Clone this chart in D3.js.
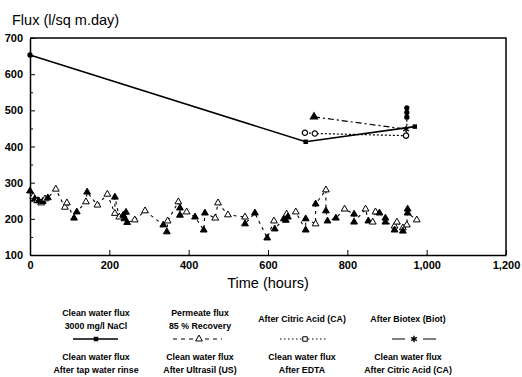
<!DOCTYPE html>
<html>
<head>
<meta charset="utf-8">
<script src="https://cdn.jsdelivr.net/npm/d3@7"></script>
<style>
  body { margin: 0; background: #fff; }
  text { font-family: "Liberation Sans", Arial, sans-serif; fill: #000; }
  .tick text { font-size: 11px; font-weight: bold; }
  .legend text { font-size: 8.8px; font-weight: bold; }
</style>
</head>
<body>
<div id="chart"></div>
<script>
// data (time in hours, flux in l/sq m.day)
var xTicks = [0, 200, 400, 600, 800, 1000, 1200];
var yTicks = [100, 200, 300, 400, 500, 600, 700];
var yMinor = [150, 250, 350, 450, 550, 650];

var naclTimes = [0, 695, 970];
var naclFlux = [653, 413, 455];

var caTimes = [693, 718, 948];
var caFlux = [438, 436, 430];

var biotTimes = [716, 948];
var biotFlux = [482, 448];

var afterCaTimes = [950, 950, 950];
var afterCaFlux = [507, 494, 481];

// permeate flux, 85 % recovery (open triangles)
var permTimes = [8, 18, 28, 38, 65, 88, 93, 141, 170, 195, 214, 225, 264, 290, 347, 374, 395, 467, 474, 499, 542,
  615, 647, 670, 720, 746, 793, 846, 864, 871, 919, 925, 940, 950, 975];
var permFlux = [262, 250, 244, 255, 282, 232, 244, 247, 238, 268, 215, 205, 197, 222, 194, 247, 219, 202, 244, 211, 205,
  194, 213, 219, 186, 280, 227, 227, 191, 219, 180, 191, 175, 183, 197];

// clean water flux after Ultrasil (filled triangles)
var usTimes = [0, 12, 22, 32, 45, 111, 118, 144, 214, 235, 238, 242, 245, 336, 345, 378, 378, 416, 438, 441, 542, 567,
  598, 617, 640, 645, 650, 695, 695, 720, 746, 750, 771, 817, 817, 853, 881, 896, 896, 919, 940, 952, 952];
var usFlux = [277, 255, 250, 248, 258, 202, 219, 274, 260, 210, 200, 218, 190, 183, 164, 230, 210, 205, 169, 216, 186, 216,
  147, 172, 200, 196, 205, 169, 200, 241, 222, 194, 202, 213, 191, 194, 216, 202, 191, 169, 166, 227, 216];

var legendTop = ["Clean water flux|3000 mg/l NaCl", "Permeate flux|85 % Recovery", "After Citric Acid (CA)", "After Biotex (Biot)"];
var legendBottom = ["Clean water flux|After tap water rinse", "Clean water flux|After Ultrasil (US)",
  "Clean water flux|After EDTA", "Clean water flux|After Citric Acid (CA)"];

var svgWidth = 522;
var svgHeight = 377;
var margin = { top: 38, right: 16, bottom: 122, left: 30 };
var width = svgWidth - margin.left - margin.right;
var height = svgHeight - margin.top - margin.bottom;

var svg = d3.select("#chart").append("svg")
  .attr("width", svgWidth)
  .attr("height", svgHeight);

var chartGroup = svg.append("g")
  .attr("transform", `translate(${margin.left}, ${margin.top})`);

var x = d3.scaleLinear().domain([0, 1200]).range([0, width]);
var y = d3.scaleLinear().domain([100, 700]).range([height, 0]);

function pairs(ts, vs) {
  return ts.map((t, i) => [t, vs[i]]);
}

// frame top and right
chartGroup.append("path")
  .attr("d", `M0,0H${width}V${height}`)
  .attr("fill", "none")
  .attr("stroke", "#000")
  .attr("stroke-width", 1.5);

var bottomAxis = d3.axisBottom(x).tickValues(xTicks).tickFormat(d3.format(","))
  .tickSizeInner(-5).tickSizeOuter(0).tickPadding(6);
var leftAxis = d3.axisLeft(y).tickValues(yTicks).tickFormat(d3.format("d"))
  .tickSizeInner(-5).tickSizeOuter(0).tickPadding(7);

var gx = chartGroup.append("g").attr("transform", `translate(0, ${height})`).call(bottomAxis);
var gy = chartGroup.append("g").call(leftAxis);
chartGroup.append("g").call(d3.axisLeft(y).tickValues(yMinor).tickFormat("").tickSizeInner(-3).tickSizeOuter(0))
  .select(".domain").remove();
[gx, gy].forEach(g => {
  g.select(".domain").attr("stroke-width", 1.5);
  g.selectAll(".tick line").attr("stroke-width", 1);
});

var line = d3.line().x(d => x(d[0])).y(d => y(d[1]));
var tri = d3.symbol().type(d3.symbolTriangle).size(20);
var sq = d3.symbol().type(d3.symbolSquare).size(20);
var ast = d3.symbol().type(d3.symbolAsterisk).size(30);
var circ = d3.symbol().type(d3.symbolCircle).size(22);

// permeate + clean water after Ultrasil, joined by a dashed trace in time order
var lowPts = pairs(permTimes, permFlux).map(d => d.concat([false]))
  .concat(pairs(usTimes, usFlux).map(d => d.concat([true])))
  .sort((a, b) => a[0] - b[0]);

chartGroup.append("path")
  .datum(lowPts)
  .attr("d", line)
  .attr("fill", "none")
  .attr("stroke", "#000")
  .attr("stroke-width", 1.1)
  .attr("stroke-dasharray", "3,4");

chartGroup.selectAll(".lowpt")
  .data(lowPts)
  .enter()
  .append("path")
  .attr("class", "lowpt")
  .attr("transform", d => `translate(${x(d[0])},${y(d[1])})`)
  .attr("d", tri)
  .attr("fill", d => d[2] ? "#000" : "#fff")
  .attr("stroke", "#000")
  .attr("stroke-width", 1);

// upper series
chartGroup.append("path").datum(pairs(caTimes, caFlux)).attr("d", line)
  .attr("fill", "none").attr("stroke", "#000").attr("stroke-width", 1.2).attr("stroke-dasharray", "2,2");
chartGroup.append("path").datum(pairs(biotTimes, biotFlux)).attr("d", line)
  .attr("fill", "none").attr("stroke", "#000").attr("stroke-width", 1.2).attr("stroke-dasharray", "6,3,2,3");
chartGroup.append("path").datum(pairs(afterCaTimes, afterCaFlux).concat([[950, 432]])).attr("d", line)
  .attr("fill", "none").attr("stroke", "#000").attr("stroke-width", 1.2).attr("stroke-dasharray", "2,2");
chartGroup.append("path").datum(pairs(naclTimes, naclFlux)).attr("d", line)
  .attr("fill", "none").attr("stroke", "#000").attr("stroke-width", 1.6);

chartGroup.selectAll(".ca").data(pairs(caTimes, caFlux)).enter().append("path")
  .attr("transform", d => `translate(${x(d[0])},${y(d[1])})`)
  .attr("d", circ).attr("fill", "#fff").attr("stroke", "#000").attr("stroke-width", 1.2);
chartGroup.selectAll(".biot").data(pairs(biotTimes, biotFlux)).enter().append("path")
  .attr("transform", d => `translate(${x(d[0])},${y(d[1])})`)
  .attr("d", (d, i) => i === 0 ? tri() : ast()).attr("fill", "#000").attr("stroke", "#000").attr("stroke-width", 1.4);
chartGroup.selectAll(".afterca").data(pairs(afterCaTimes, afterCaFlux)).enter().append("path")
  .attr("transform", d => `translate(${x(d[0])},${y(d[1])})`)
  .attr("d", circ).attr("fill", "#000");
chartGroup.selectAll(".nacl").data(pairs(naclTimes, naclFlux)).enter().append("path")
  .attr("transform", d => `translate(${x(d[0])},${y(d[1])})`)
  .attr("d", (d, i) => i === 0 ? circ() : sq()).attr("fill", "#000");

// axis titles
svg.append("text")
  .attr("x", 12)
  .attr("y", 25)
  .attr("font-size", "14.5px")
  .text("Flux (l/sq m.day)");

svg.append("text")
  .attr("x", margin.left + width / 2)
  .attr("y", 288)
  .attr("text-anchor", "middle")
  .attr("font-size", "14.5px")
  .text("Time (hours)");

// legend
var legendX = [96, 200, 302, 408];
var legend = svg.append("g").attr("class", "legend");

function multiline(cx, lines, yTop) {
  lines.forEach((s, i) => {
    legend.append("text")
      .attr("x", cx)
      .attr("y", yTop + i * 13)
      .attr("text-anchor", "middle")
      .text(s);
  });
}

legendTop.forEach((s, i) => {
  var parts = s.split("|");
  multiline(legendX[i], parts, parts.length === 2 ? 316 : 322);
});
legendBottom.forEach((s, i) => {
  multiline(legendX[i], s.split("|"), 360);
});

var sy = 339;
legend.append("line").attr("x1", 73).attr("x2", 118).attr("y1", sy).attr("y2", sy)
  .attr("stroke", "#000").attr("stroke-width", 1.3);
legend.append("path").attr("transform", `translate(96,${sy})`).attr("d", sq).attr("fill", "#000");

legend.append("line").attr("x1", 173).attr("x2", 222).attr("y1", sy).attr("y2", sy)
  .attr("stroke", "#000").attr("stroke-width", 1.1).attr("stroke-dasharray", "4,4");
legend.append("path").attr("transform", `translate(199,${sy})`).attr("d", tri)
  .attr("fill", "#fff").attr("stroke", "#000");

legend.append("line").attr("x1", 280).attr("x2", 327).attr("y1", sy).attr("y2", sy)
  .attr("stroke", "#000").attr("stroke-width", 1).attr("stroke-dasharray", "1.5,2.5");
legend.append("path").attr("transform", `translate(305,${sy})`).attr("d", sq)
  .attr("fill", "#fff").attr("stroke", "#000");

legend.append("line").attr("x1", 392).attr("x2", 437).attr("y1", sy).attr("y2", sy)
  .attr("stroke", "#000").attr("stroke-width", 1.1).attr("stroke-dasharray", "13,18");
legend.append("path").attr("transform", `translate(414,${sy})`).attr("d", ast)
  .attr("stroke", "#000").attr("stroke-width", 1.4);
</script>
</body>
</html>
